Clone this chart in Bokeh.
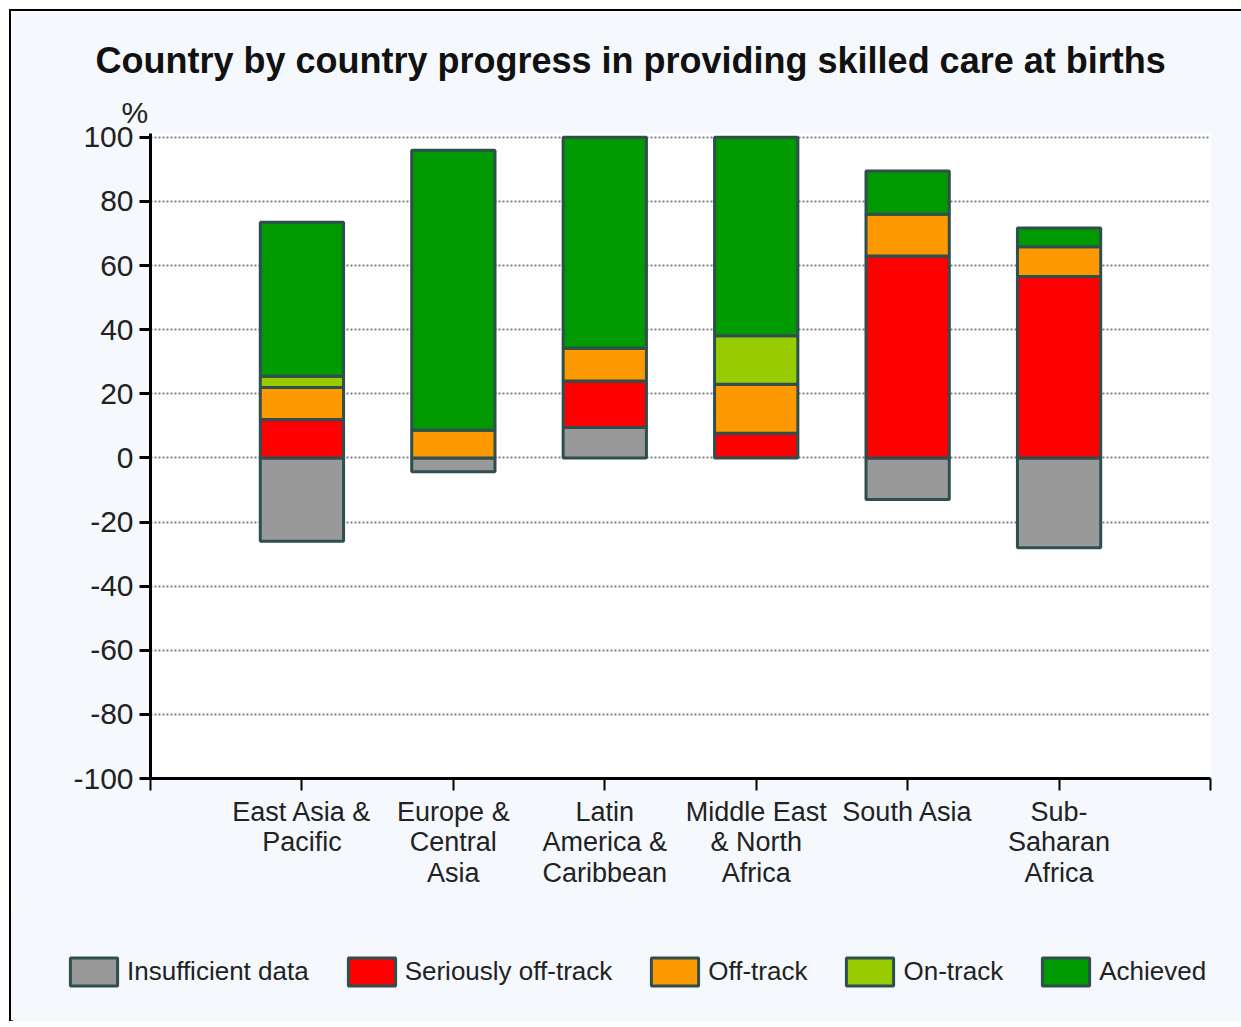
import numpy as np
from bokeh.plotting import figure
from bokeh.layouts import column
from bokeh.models import (ColumnDataSource, Range1d, FixedTicker, Title, Legend, LegendItem)
from bokeh.embed import file_html
from bokeh.resources import INLINE

# ---- data ----
regions = ["East Asia &\nPacific", "Europe &\nCentral\nAsia", "Latin\nAmerica &\nCaribbean",
           "Middle East\n& North\nAfrica", "South Asia", "Sub-\nSaharan\nAfrica"]
insufficient = [-26.0, -4.3, 9.5, 0.0, -13.0, -28.0]
seriously_off = [12.0, 0.0, 14.5, 7.7, 63.0, 56.6]
off_track = [10.0, 8.6, 10.2, 15.3, 13.0, 9.3]
on_track = [3.5, 0.0, 0.0, 15.1, 0.0, 0.0]
achieved = [48.0, 87.4, 65.8, 61.9, 13.5, 5.8]
series_names = ["Insufficient data", "Seriously off-track", "Off-track", "On-track", "Achieved"]
series_colors = ["#999999", "#FF0000", "#FF9900", "#99CC00", "#009900"]
y_ticks = [-100, -80, -60, -40, -20, 0, 20, 40, 60, 80, 100]
title_text = "Country by country progress in providing skilled care at births"

BG = "#F5F8FC"
EDGE = "#2F4F4F"
xs = np.arange(1, len(regions) + 1)

p = figure(width=1230, height=900, output_backend="svg", toolbar_location=None, title=None,
           x_range=Range1d(0, 7), y_range=Range1d(-100, 101.2),
           min_border_left=139, min_border_right=31, min_border_top=122, min_border_bottom=133,
           background_fill_color="white", border_fill_color=BG)
p.outline_line_color = None
p.frame_align = False

# stacking: insufficient data goes below zero (or at the base when positive)
sources = []
ins = np.array(insufficient)
base = np.where(ins > 0, ins, 0.0)
src = dict(x=[], bottom=[], top=[])
for x, v in zip(xs, ins):
    if v != 0:
        src["x"].append(x)
        src["bottom"].append(min(v, 0))
        src["top"].append(max(v, 0))
sources.append(ColumnDataSource(src))
for vals in [seriously_off, off_track, on_track, achieved]:
    vals = np.array(vals)
    src = dict(x=[], bottom=[], top=[])
    for x, b, v in zip(xs, base, vals):
        if v != 0:
            src["x"].append(x)
            src["bottom"].append(b)
            src["top"].append(b + v)
    base = base + vals
    sources.append(ColumnDataSource(src))

for s, col in zip(sources, series_colors):
    p.vbar(x="x", bottom="bottom", top="top", width=0.55, source=s,
           fill_color=col, line_color=EDGE, line_width=3)

# grid
p.xgrid.visible = False
p.ygrid.ticker = FixedTicker(ticks=[t for t in y_ticks if t > -100])
p.ygrid.grid_line_color = "#808080"
p.ygrid.grid_line_width = 2
p.ygrid.grid_line_dash = "2 2"

# axes
p.yaxis.ticker = FixedTicker(ticks=y_ticks)
p.yaxis.major_label_overrides = {t: str(t) for t in y_ticks}
p.yaxis.axis_line_width = 3
p.yaxis.major_tick_line_width = 3
p.yaxis.major_tick_out = 11
p.yaxis.major_tick_in = 0
p.yaxis.minor_tick_line_color = None
p.yaxis.major_label_text_font = "Liberation Sans"
p.yaxis.major_label_text_font_size = "30px"
p.yaxis.major_label_text_color = "#222222"
p.yaxis.major_label_standoff = 6

p.xaxis.ticker = FixedTicker(ticks=list(range(0, 8)))
p.xaxis.major_label_overrides = {0: "", 7: "", **{int(x): lab for x, lab in zip(xs, regions)}}
p.xaxis.axis_line_width = 3
p.xaxis.major_tick_line_width = 2
p.xaxis.major_tick_out = 12
p.xaxis.major_tick_in = 0
p.xaxis.minor_tick_line_color = None
p.xaxis.major_label_text_font = "Liberation Sans"
p.xaxis.major_label_text_font_size = "27px"
p.xaxis.major_label_text_color = "#222222"
p.xaxis.major_label_text_line_height = 1.03
p.xaxis.major_label_standoff = 6

# unit label (closest to the frame) and main title
p.add_layout(Title(text="%", align="left", offset=-29, standoff=10,
                   text_font="Liberation Sans", text_font_size="30px",
                   text_font_style="normal", text_color="#222222"), "above")
p.add_layout(Title(text=title_text, align="left", offset=-55, standoff=16,
                   text_font="Liberation Sans", text_font_size="36px",
                   text_font_style="bold", text_color="#111111"), "above")

# legend strip (shares the bar sources; its ranges keep the bars out of view)
q = figure(width=1230, height=110, output_backend="svg", toolbar_location=None, title=None,
           x_range=Range1d(100, 101), y_range=Range1d(1000, 1001), x_axis_type=None, y_axis_type=None,
           min_border=0, background_fill_color=BG, border_fill_color=BG)
q.outline_line_color = None
q.grid.visible = False
q.frame_align = False
leg_renderers = [q.vbar(x="x", bottom="bottom", top="top", width=0.55, source=s,
                        fill_color=c, line_color=EDGE, line_width=3)
                 for s, c in zip(sources, series_colors)]
legend = Legend(items=[LegendItem(label=n, renderers=[r]) for n, r in zip(series_names, leg_renderers)],
                orientation="horizontal", location=(53, 32),
                glyph_width=59, glyph_height=35, label_standoff=4, spacing=33,
                padding=0, margin=0, border_line_color=None, background_fill_alpha=0,
                label_text_font="Liberation Sans", label_text_font_size="26px",
                label_text_color="#222222")
q.add_layout(legend, "center")

layout = column(p, q, spacing=0,
                styles={"margin-left": "9px", "margin-top": "9px",
                        "border-top": "2px solid black", "border-left": "2px solid black"})

open("out.html", "w").write(file_html(layout, INLINE))
